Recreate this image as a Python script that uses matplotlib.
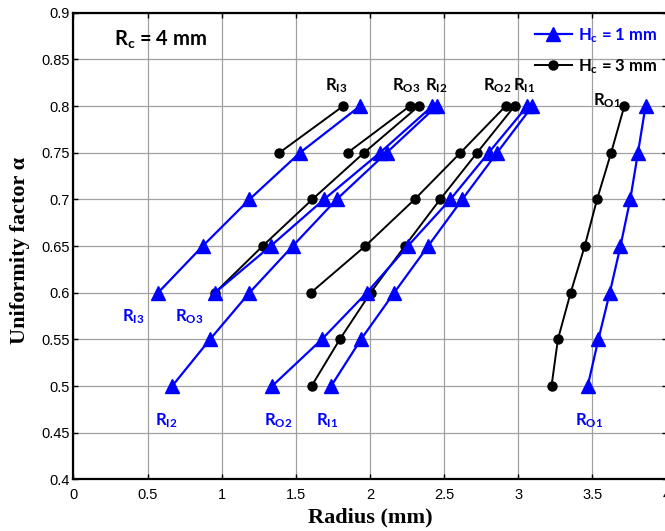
import matplotlib
matplotlib.use("Agg")
import matplotlib.pyplot as plt
from matplotlib.lines import Line2D

plt.rcParams['mathtext.fontset'] = 'custom'
plt.rcParams['mathtext.rm'] = 'Lato'
plt.rcParams['mathtext.bf'] = 'Lato:bold'
plt.rcParams['mathtext.it'] = 'Lato:italic'

# ---- data (uniformity factor alpha vs radius in mm) ----
alpha_full = [0.5, 0.55, 0.6, 0.65, 0.7, 0.75, 0.8]
alpha_from06 = [0.6, 0.65, 0.7, 0.75, 0.8]
alpha_top2 = [0.75, 0.8]

# Hc = 1 mm (blue)
h1_RI3 = [0.571, 0.872, 1.187, 1.528, 1.933]
h1_RO3 = [0.955, 1.330, 1.690, 2.067, 2.421]
h1_RI2 = [0.666, 0.921, 1.187, 1.479, 1.775, 2.112, 2.450]
h1_RO2 = [1.340, 1.675, 1.978, 2.255, 2.542, 2.800, 3.061]
h1_RI1 = [1.738, 1.939, 2.163, 2.392, 2.622, 2.857, 3.095]
h1_RO1 = [3.468, 3.540, 3.617, 3.689, 3.755, 3.807, 3.858]

# Hc = 3 mm (black)
h3_RI3 = [1.389, 1.819]
h3_RO3 = [1.849, 2.269]
h3_RI2 = [0.955, 1.276, 1.611, 1.960, 2.329]
h3_RO2 = [1.601, 1.968, 2.301, 2.610, 2.915]
h3_RI1 = [1.606, 1.796, 2.004, 2.235, 2.473, 2.722, 2.975]
h3_RO1 = [3.224, 3.267, 3.353, 3.448, 3.531, 3.626, 3.715]

legend_labels = [r'H$_\mathbf{c}$ = 1 mm', r'H$_\mathbf{c}$ = 3 mm']

# labels near top ends (black) and bottom ends (blue)
top_names = ['I3', 'O3', 'I2', 'O2', 'I1', 'O1']
top_x = [1.775, 2.243, 2.445, 2.857, 3.040, 3.598]
top_y = [0.817, 0.817, 0.817, 0.817, 0.817, 0.801]
bot_names = ['I3', 'O3', 'I2', 'O2', 'I1', 'O1']
bot_x = [0.407, 0.784, 0.623, 1.378, 1.713, 3.475]
bot_y = [0.569, 0.569, 0.458, 0.458, 0.458, 0.458]

xticks = [0, 0.5, 1, 1.5, 2, 2.5, 3, 3.5, 4]
yticks = [0.4, 0.45, 0.5, 0.55, 0.6, 0.65, 0.7, 0.75, 0.8, 0.85, 0.9]

BLUE = '#0000FF'

fig = plt.figure(figsize=(6.65, 5.31), dpi=100)
ax = fig.add_axes([73.4/665, 1 - 479.4/531, 593.2/665, 466.7/531])

black_series = [(h3_RI3, alpha_top2), (h3_RO3, alpha_top2), (h3_RI2, alpha_from06),
                (h3_RO2, alpha_from06), (h3_RI1, alpha_full), (h3_RO1, alpha_full)]
blue_series = [(h1_RI3, alpha_from06), (h1_RO3, alpha_from06), (h1_RI2, alpha_full),
               (h1_RO2, alpha_full), (h1_RI1, alpha_full), (h1_RO1, alpha_full)]

for xs, ys in black_series:
    ax.plot(xs, ys, color='black', lw=1.4, marker='o', ms=6.5, zorder=3)
for xs, ys in blue_series:
    ax.plot(xs, ys, color=BLUE, lw=1.6, marker='^', ms=9.5, zorder=4)

ax.set_xlim(0, 4)
ax.set_ylim(0.4, 0.9)
ax.set_xticks(xticks)
ax.set_yticks(yticks)
ax.set_xticklabels(['0', '0.5', '1', '1.5', '2', '2.5', '3', '3.5', '4'])
ax.set_yticklabels(['0.4', '0.45', '0.5', '0.55', '0.6', '0.65', '0.7', '0.75', '0.8', '0.85', '0.9'])
ax.grid(True, color='#a0a0a0', lw=0.9)
ax.set_axisbelow(True)
ax.tick_params(direction='in', top=True, right=True, length=3.5, width=1,
               labelsize=10.5, pad=2.5)
for lab in ax.get_xticklabels() + ax.get_yticklabels():
    lab.set_fontfamily('Liberation Sans')
ax.tick_params(axis='x', pad=6)
for sp in ax.spines.values():
    sp.set_linewidth(1.6)

ax.set_xlabel('Radius (mm)', fontfamily='Liberation Serif', fontweight='bold', fontsize=16)
ax.set_ylabel('Uniformity factor α', fontfamily='Liberation Serif', fontweight='bold', fontsize=16)
ax.xaxis.set_label_coords(0.5, -0.0806)
ax.xaxis.label.set_va('center')
ax.yaxis.set_label_coords(-0.09, 0.49)
ax.yaxis.label.set_va('center')

ax.text(0.589, 0.872, r'R$_\mathbf{c}$ = 4 mm', fontfamily='Lato', fontweight='bold',
        fontsize=14.5, ha='center', va='center', color='black')

for n, x, y in zip(top_names, top_x, top_y):
    ax.text(x, y, r'R$_\mathbf{%s}$' % n, fontfamily='Lato', fontweight='bold',
            fontsize=12, ha='center', va='baseline', color='black', zorder=5)
for n, x, y in zip(bot_names, bot_x, bot_y):
    ax.text(x, y, r'R$_\mathbf{%s}$' % n, fontfamily='Lato', fontweight='bold',
            fontsize=12, ha='center', va='baseline', color=BLUE, zorder=5)

handles = [Line2D([], [], color=BLUE, lw=1.6, marker='^', ms=9.5),
           Line2D([], [], color='black', lw=1.4, marker='o', ms=6.5)]
leg = ax.legend(handles, legend_labels, loc='upper left',
                bbox_to_anchor=((535 - 73.4) / 593.2, (479.4 - 26) / 466.7),
                frameon=False, prop={'family': 'Lato', 'weight': 'bold', 'size': 12},
                handlelength=2.2, handletextpad=0.4, labelspacing=0.75, borderpad=0,
                borderaxespad=0, labelcolor=[BLUE, 'black'])

fig.savefig('out.png', dpi=100)
